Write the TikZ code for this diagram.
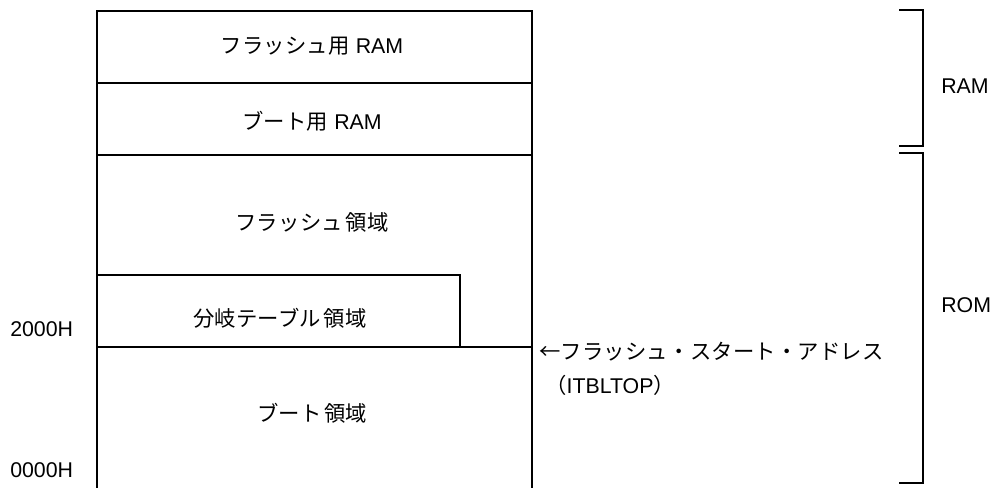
\documentclass[tikz,border=0pt]{standalone}
\usepackage{fontspec}
\setmainfont{Liberation Sans}
\newfontfamily\jp[LetterSpace=1]{Noto Sans CJK JP}
\begin{document}
\begin{tikzpicture}[x=0.75pt,y=-0.75pt,
  wall/.style={line width=1.6pt,line cap=rect},
  brace/.style={line width=1.9pt},
  lbl/.style={inner sep=0pt,font=\fontsize{16}{18}\selectfont},
  addr/.style={lbl,anchor=west}]
\useasboundingbox (0,0) rectangle (991,488);
% memory map outline
\coordinate (tl) at (97,11);
\coordinate (tr) at (532,11);
\coordinate (bl) at (97,488);
\coordinate (br) at (532,488);
\draw[wall] (bl) -- (tl) -- (tr) -- (br);
\draw[wall] (97,83) -- (532,83);
\draw[wall] (97,155) -- (532,155);
\draw[wall] (97,347) -- (532,347);
\draw[wall] (97,275) -- (460,275) -- (460,347);
% labels in areas
\node[lbl] (fram) at (312,46) {{\jp フラッシュ用} RAM};
\node[lbl] (bram) at (312,121) {{\jp ブート用} RAM};
\node[lbl] (flash) at (312,222) {\jp フラッシュ\kern2pt 領域};
\node[lbl] (table) at (280,318) {\jp 分岐テーブル\kern2pt 領域};
\node[lbl] (boot) at (312,413) {\jp ブート\kern2pt 領域};
% addresses
\node[addr] (a2000) at (10,329) {2000H};
\node[addr] (a0000) at (10,470) {0000H};
\node[addr] (start) at (539,352) {\jp ←フラッシュ・スタート・アドレス};
\node[addr] (itbl) at (545,385) {{\jp （}ITBLTOP{\jp ）}};
% brackets
\draw[brace] (899,10) -- (923,10) -- (923,146) -- (899,146);
\draw[brace] (899,153) -- (923,153) -- (923,483) -- (899,483);
\node[addr] (ram) at (941,86) {RAM};
\node[addr] (rom) at (941,305) {ROM};
\end{tikzpicture}
\end{document}
